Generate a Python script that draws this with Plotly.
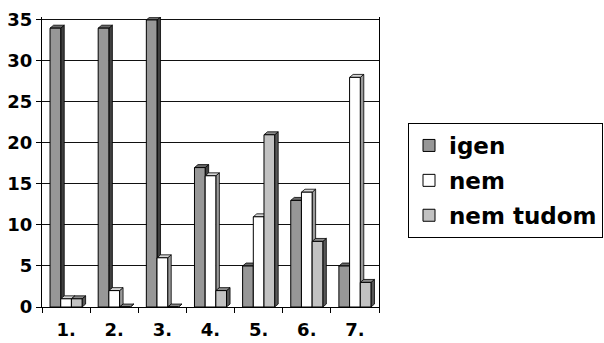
import plotly.graph_objects as go

# Survey answers per question
categories = ["1.", "2.", "3.", "4.", "5.", "6.", "7."]
igen = [34, 34, 35, 17, 5, 13, 5]
nem = [1, 2, 6, 16, 11, 14, 28]
nem_tudom = [1, 0, 0, 2, 21, 8, 3]

series = [
    # name, values, front, side, top
    ("igen", igen, "#979797", "#404040", "#6a6a6a"),
    ("nem", nem, "#ffffff", "#9a9a9a", "#d6d6d6"),
    ("nem tudom", nem_tudom, "#c2c2c2", "#585858", "#8a8a8a"),
]

BAR_W = 0.222
START = -0.333
DX = 0.073   # depth in category units
DY = 0.36    # depth in value units

FONT = dict(family="DejaVu Sans", size=18, color="black", weight="bold")

fig = go.Figure()
shapes = []
for k, (name, vals, front, side, top) in enumerate(series):
    off = START + k * BAR_W
    fig.add_trace(go.Bar(
        x=categories, y=vals, name=name,
        offset=off, width=BAR_W,
        marker=dict(color=front, line=dict(color="black", width=1)),
        legendgroup=name, hoverinfo="skip",
    ))
    for i, v in enumerate(vals):
        x0 = i + off
        x1 = x0 + BAR_W
        # right side face
        shapes.append(dict(
            type="path", xref="x", yref="y", layer="between",
            path=f"M{x1},0 L{x1},{v} L{x1 + DX},{v + DY} L{x1 + DX},{DY} Z",
            fillcolor=side, line=dict(color="black", width=0.8),
        ))
        # top face
        shapes.append(dict(
            type="path", xref="x", yref="y", layer="between",
            path=f"M{x0},{v} L{x1},{v} L{x1 + DX},{v + DY} L{x0 + DX},{v + DY} Z",
            fillcolor=top, line=dict(color="black", width=0.8),
        ))

fig.update_layout(
    width=604, height=343,
    margin=dict(l=42, r=225, t=17, b=36, autoexpand=False),
    paper_bgcolor="white", plot_bgcolor="white",
    barmode="overlay",
    shapes=shapes,
    font=FONT,
    legend=dict(
        xref="container", yref="container",
        x=408 / 604, y=1 - 123 / 343, xanchor="left", yanchor="top",
        bordercolor="black", borderwidth=1, bgcolor="white",
        font=dict(family="DejaVu Sans", size=23, color="black", weight="bold"),
        tracegroupgap=2,
    ),
    xaxis=dict(
        type="category", categoryorder="array", categoryarray=categories,
        range=[-0.5, 6.5], tickson="boundaries", automargin=False,
        showline=True, linecolor="black", linewidth=1, mirror=False,
        ticks="outside", ticklen=5, tickcolor="black",
        showgrid=False, tickfont=FONT, ticklabelstandoff=6,
    ),
    yaxis=dict(
        range=[0, 35.36], tickvals=[0, 5, 10, 15, 20, 25, 30, 35],
        automargin=False,
        showline=True, linecolor="black", linewidth=1, mirror=True,
        ticks="outside", ticklen=5, tickcolor="black",
        showgrid=True, gridcolor="#111111", gridwidth=1,
        zeroline=False, tickfont=FONT,
    ),
)

fig.write_html("out.html")
